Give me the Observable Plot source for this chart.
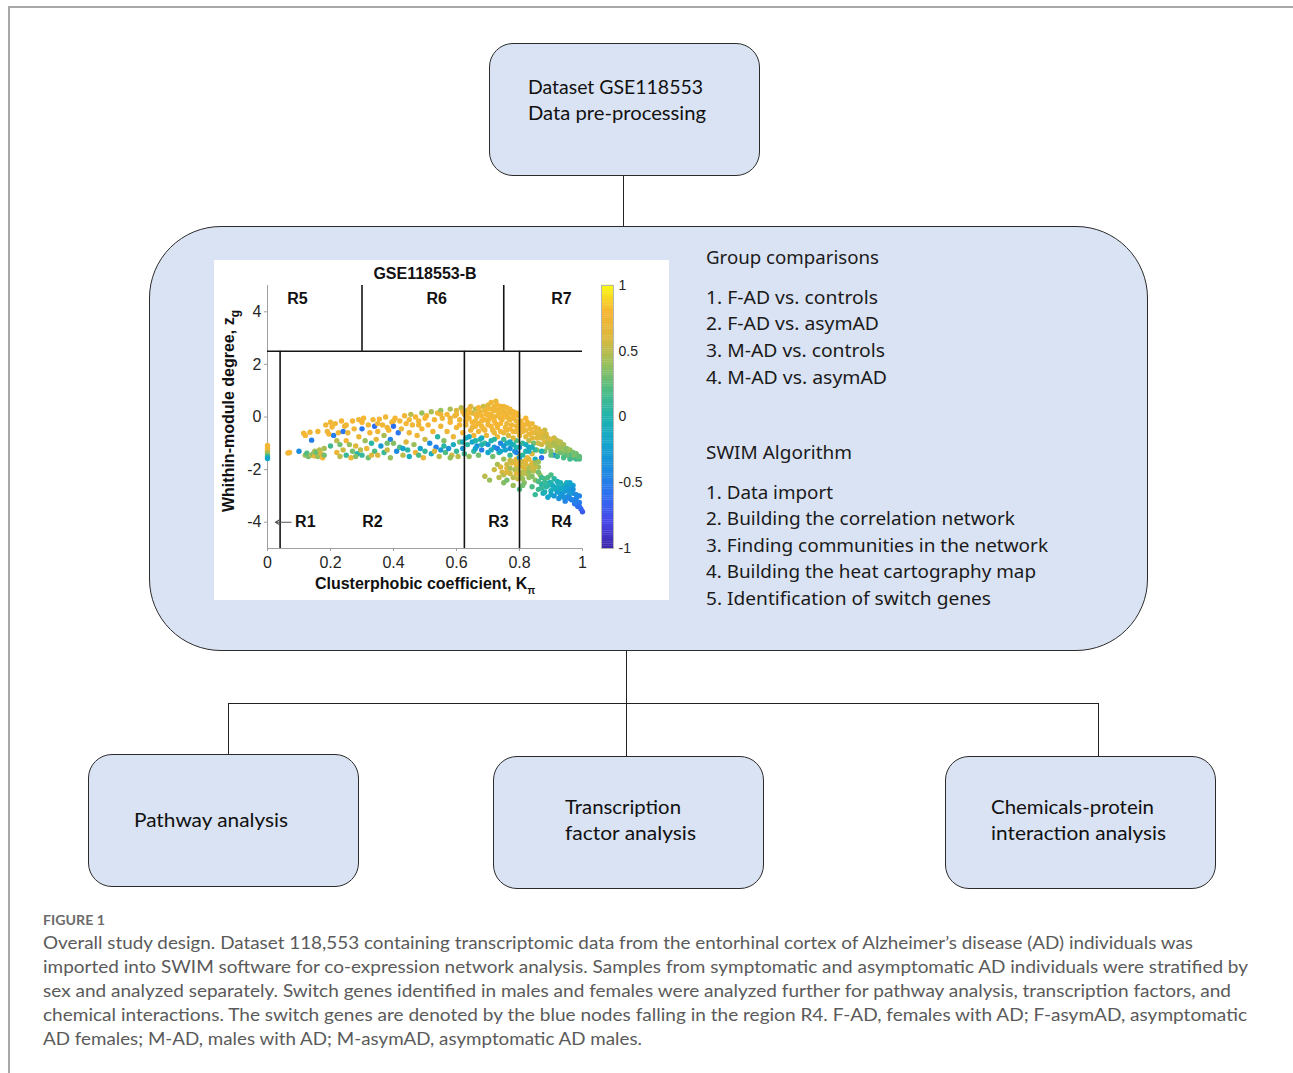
<!DOCTYPE html>
<html><head><meta charset="utf-8">
<script src="https://cdn.jsdelivr.net/npm/d3@7"></script>
<script src="https://cdn.jsdelivr.net/npm/@observablehq/plot@0.6"></script>
<style>
html,body{margin:0;padding:0;background:#fff;}
body{width:1293px;height:1073px;position:relative;overflow:hidden;}
.box{position:absolute;background:#dae3f3;border:1.6px solid #2b2b2b;box-sizing:border-box;}
.ln{position:absolute;background:#222;}
.t{position:absolute;white-space:nowrap;line-height:1;transform-origin:0 50%;}
.abs{position:absolute;}
</style></head><body>
<script>
// ---------- DATA ----------
// genes: [clusterphobic coefficient K_pi, within-module degree z_g, Pearson correlation (colour)]
const genes = [
[0,-1.08,0.75],[0,-1.2,0.8],[0,-1.3,0.6],[0,-1.4,0.4],[0,-1.5,0.1],[0,-1.58,-0.2],
[0.065,-1.37,0.75],[0.07,-1.35,0.8],[0.1,-1.3,-0.4],
[0.115,-0.62,0.75],[0.12,-0.7,0.8],[0.12,-1.45,0.4],[0.125,-1.38,0.2],[0.13,-1.5,0.3],[0.135,-0.58,0.75],[0.14,-1.45,0.5],[0.14,-0.88,-0.5],[0.145,-1.4,0.35],[0.15,-1.3,0.45],[0.15,-1.48,0.7],
[0.155,-1.35,0.25],[0.16,-1.5,0.4],[0.16,-0.55,0.75],[0.165,-1.25,0.5],[0.17,-1.4,0.6],[0.175,-1.55,0.8],[0.18,-1.2,0.45],[0.185,-0.3,0.75],[0.19,-0.55,0.7],[0.195,-0.65,0.8],[0.2,-1.1,0.15],[0.2,-0.2,0.75],
[0.205,-0.38,0.8],[0.21,-0.7,-0.5],[0.215,-0.25,0.75],[0.22,-0.9,0.5],[0.22,-1.35,0.7],[0.225,-0.6,0.75],[0.23,-1.05,0.3],[0.235,-0.15,0.8],[0.24,-0.55,-0.55],[0.24,-1.25,0.55],[0.245,-0.35,0.75],[0.25,-1.45,0.1],[0.25,-0.9,0.8],
[0.255,-0.6,0.7],[0.26,-1.05,0.4],[0.265,-1.55,0.75],[0.27,-0.15,0.8],[0.27,-1.3,0.3],[0.275,-0.45,0.75],[0.28,-1.1,0.6],[0.285,-1.4,0.0],[0.29,-0.1,0.75],[0.29,-0.75,0.7],[0.295,-1.25,0.5],[0.3,-0.45,-0.55],[0.3,-1.45,0.1],
[0.305,-0.05,0.8],[0.31,-0.9,0.4],[0.315,-1.2,0.7],[0.32,-0.3,0.75],[0.32,-1.55,0.3],[0.325,-0.6,0.8],[0.33,-1.0,0.05],[0.335,-0.1,0.75],[0.34,-0.35,-0.6],[0.34,-1.3,0.2],[0.345,-0.85,0.65],[0.35,-0.55,0.75],[0.35,-1.45,0.6],
[0.355,-0.08,0.8],[0.36,-1.1,-0.3],[0.365,-0.3,0.75],[0.37,-1.35,0.1],[0.37,-0.7,0.45],[0.375,0.0,0.75],[0.38,-1.25,0.55],[0.385,-0.5,0.8],[0.39,-0.85,-0.45],[0.39,-1.55,0.4],[0.395,-0.2,0.75],[0.4,-1.0,0.35],[0.4,-0.35,-0.6],
[0.405,-0.05,0.8],[0.41,-1.3,-0.4],[0.415,-0.6,-0.55],[0.42,-0.15,0.75],[0.42,-1.15,0.2],[0.425,-0.45,0.7],[0.43,-1.45,0.5],[0.435,0.05,0.75],[0.44,-0.95,0.6],[0.44,-0.25,0.8],[0.445,-1.25,0.05],[0.45,-0.6,0.75],[0.45,-1.5,-0.1],
[0.455,0.1,0.5],[0.46,-0.3,0.75],[0.465,-1.05,0.4],[0.47,0.0,0.8],[0.47,-1.35,0.7],[0.475,-0.7,0.75],[0.48,-0.15,0.75],[0.485,-1.2,-0.2],[0.49,0.15,0.4],[0.49,-0.45,0.8],[0.495,-1.55,0.7],[0.5,-0.85,0.55],[0.5,-1.3,0.1],
[0.505,0.05,0.75],[0.51,-0.3,0.8],[0.515,-1.0,-0.4],[0.52,0.2,0.45],[0.52,-1.4,-0.1],[0.525,-0.55,0.75],[0.53,-0.1,0.8],[0.535,-1.15,-0.5],[0.54,0.15,0.75],[0.54,-0.75,0.05],[0.545,-1.5,0.5],[0.55,-0.35,0.75],[0.55,-1.25,-0.3],[0.55,0.25,0.4],
[0.555,-0.05,0.75],[0.56,-0.9,0.35],[0.565,-1.35,0.2],[0.57,0.1,0.8],[0.57,-0.55,0.75],[0.575,-1.2,-0.35],[0.58,0.3,0.45],[0.58,-0.2,0.8],[0.585,-1.45,0.55],[0.59,-0.75,0.7],[0.59,-1.05,-0.1],[0.595,0.05,0.75],[0.6,-0.4,0.75],[0.6,-1.3,0.1],[0.6,0.25,0.6],
[0.605,-1.5,0.5],[0.61,-0.1,0.75],[0.61,-0.95,0.3],[0.615,0.35,0.5],[0.62,-0.6,0.8],[0.62,-1.2,-0.3],[0.625,0.1,0.75],[0.625,-1.4,0.15],[0.63,-0.3,0.7],[0.63,-0.8,-0.1],[0.635,0.25,0.45],[0.635,-1.05,0.05],[0.64,-0.05,0.75],[0.64,-1.5,0.4],[0.645,-0.5,0.75],[0.645,0.4,0.6],[0.65,-0.95,-0.2],[0.65,-0.2,0.8],[0.65,0.15,0.55],
[0.655,-1.3,0.1],[0.655,-0.7,0.75],[0.66,0.3,0.5],[0.66,-0.35,0.8],[0.665,-1.1,-0.4],[0.665,0.0,0.75],[0.67,-0.55,0.75],[0.67,-1.45,0.3],[0.675,0.2,0.7],[0.675,-0.85,0.05],[0.68,-0.15,0.75],[0.68,-1.25,-0.5],[0.685,0.4,0.55],[0.685,-0.45,0.8],[0.69,-1.0,0.1],[0.69,-2.25,0.5],[0.695,0.1,0.75],[0.695,-0.7,0.7],[0.7,-1.35,-0.2],[0.7,-0.3,0.75],[0.7,0.45,0.65],
[0.705,-2.4,0.4],[0.705,-0.05,0.8],[0.71,-0.9,0.0],[0.71,0.55,0.75],[0.715,-0.5,0.75],[0.715,-1.5,0.3],[0.72,0.25,0.75],[0.72,-1.15,-0.3],[0.72,-2.0,0.55],[0.725,0.6,0.7],[0.725,-0.25,0.8],[0.73,-0.75,0.7],[0.73,-1.8,0.45],[0.73,0.05,0.75],[0.735,-1.35,0.05],[0.735,-2.3,0.5],[0.74,0.4,0.75],[0.74,-0.55,0.75],[0.74,-1.0,-0.45],[0.745,-2.1,0.6],[0.745,-0.1,0.8],[0.75,0.2,0.7],[0.75,-1.6,0.4],[0.75,-0.85,0.15],[0.75,-2.5,0.35],
[0.755,-0.4,0.75],[0.755,-1.25,-0.2],[0.76,0.35,0.75],[0.76,-1.95,0.65],[0.76,-2.4,0.3],[0.765,-0.05,0.8],[0.765,-0.7,0.6],[0.77,-1.45,0.1],[0.77,-2.15,0.55],[0.77,0.15,0.7],[0.775,-1.05,0.0],[0.775,-0.3,0.75],[0.775,-1.75,0.7],[0.78,-2.6,0.4],[0.78,0.2,0.75],[0.78,-0.55,0.75],[0.785,-1.3,-0.3],[0.785,-2.0,0.45],[0.79,-0.15,0.7],[0.79,-0.9,0.2],[0.79,-1.6,0.65],[0.795,-2.35,0.55],[0.795,0.05,0.75],[0.8,-0.4,0.75],[0.8,-1.15,-0.4],[0.8,-1.85,0.5],[0.8,-2.75,0.2],[0.8,-1.45,0.6],[0.8,-0.7,0.7],
[0.805,-0.15,0.75],[0.805,-2.2,0.45],[0.81,-0.55,0.7],[0.81,-1.0,0.1],[0.81,-1.7,0.55],[0.815,-2.5,0.35],[0.815,-0.3,0.8],[0.82,-1.3,0.0],[0.82,-2.0,0.6],[0.82,-0.75,0.65],[0.825,-1.55,0.7],[0.825,-0.2,0.75],[0.83,-2.3,0.4],[0.83,-0.9,0.5],[0.83,-1.15,-0.2],[0.835,-1.85,0.55],[0.835,-0.45,0.7],[0.84,-2.65,0.2],[0.84,-1.4,0.6],[0.84,-0.6,0.75],[0.845,-2.05,0.5],[0.845,-1.0,0.3],[0.85,-0.4,0.7],[0.85,-1.6,-0.1],[0.85,-2.4,0.35],[0.85,-2.95,0.1],
[0.855,-0.8,0.65],[0.855,-1.25,0.4],[0.86,-2.75,0.15],[0.86,-1.9,0.4],[0.865,-0.55,0.7],[0.865,-2.2,0.45],[0.87,-1.05,0.55],[0.87,-1.55,-0.6],[0.87,-2.55,0.0],[0.875,-0.7,0.6],[0.875,-2.9,-0.1],[0.88,-1.3,0.3],[0.88,-2.35,0.2],[0.88,-0.95,0.65],[0.885,-2.65,0.05],[0.885,-0.65,0.6],[0.89,-1.15,0.4],[0.89,-3.05,-0.2],[0.895,-2.5,-0.05],[0.895,-0.9,0.55],[0.9,-1.3,0.35],[0.9,-2.8,-0.1],[0.9,-2.2,0.2],
[0.905,-0.95,0.5],[0.905,-2.6,-0.2],[0.91,-1.45,-0.4],[0.91,-3.0,-0.3],[0.915,-1.1,0.45],[0.915,-2.75,0.0],[0.92,-1.3,0.4],[0.92,-2.45,-0.1],[0.925,-3.1,-0.35],[0.925,-1.0,0.55],[0.93,-2.7,-0.2],[0.93,-1.35,0.3],[0.935,-2.9,-0.4],[0.935,-1.15,0.45],[0.94,-2.6,0.05],[0.94,-1.4,0.3],[0.945,-3.2,-0.45],[0.945,-1.25,0.4],[0.95,-2.8,-0.3],[0.95,-1.45,0.25],[0.95,-2.5,-0.1],
[0.955,-3.0,-0.35],[0.955,-1.3,0.35],[0.96,-2.65,-0.15],[0.96,-1.5,0.3],[0.965,-3.15,-0.5],[0.965,-1.4,0.2],[0.97,-2.9,-0.4],[0.97,-1.55,0.25],[0.975,-3.3,-0.55],[0.975,-1.45,0.35],[0.98,-3.1,-0.45],[0.98,-1.6,0.15],[0.985,-3.4,-0.6],[0.985,-1.5,0.3],[0.99,-3.25,-0.5],[0.99,-1.6,0.2],[0.995,-3.5,-0.65],[1.0,-3.6,-0.7],
[0.63,0.05,0.75],[0.64,0.3,0.8],[0.65,-0.4,0.7],[0.66,0.1,0.75],[0.67,0.35,0.8],[0.67,-0.25,0.75],[0.68,0.05,0.8],[0.69,-0.5,0.75],[0.69,0.25,0.75],[0.7,0.1,0.8],[0.7,-0.15,0.7],[0.71,0.3,0.75],[0.71,-0.35,0.8],[0.72,0.0,0.75],[0.72,-0.6,0.7],[0.73,0.45,0.8],[0.73,-0.4,0.75],[0.74,0.15,0.75],[0.74,-0.25,0.8],[0.75,-0.6,0.7],[0.75,0.4,0.75],[0.76,0.0,0.75],[0.76,-0.25,0.7],[0.77,-0.45,0.8],[0.77,0.3,0.75],[0.78,-0.05,0.75],[0.78,-0.8,0.6],[0.79,0.15,0.8],[0.79,-0.35,0.75],[0.8,-0.25,0.75],[0.81,-0.4,0.75],[0.82,-0.5,0.7],[0.82,-0.05,0.8],[0.83,-0.3,0.75],[0.83,-0.65,0.7],[0.84,-0.25,0.7],[0.84,-0.8,0.65],[0.85,-0.6,0.65],[0.86,-0.45,0.65],[0.86,-1.0,0.55],[0.87,-0.8,0.6],[0.88,-0.5,0.55],[0.89,-0.8,0.6],[0.9,-1.1,0.5],[0.91,-0.8,0.55],[0.92,-1.15,0.45],[0.93,-0.95,0.5],
[0.78,-1.7,0.6],[0.79,-1.95,0.5],[0.8,-2.1,0.45],[0.81,-1.9,0.6],[0.81,-2.35,0.4],[0.82,-1.65,0.7],[0.82,-2.15,0.5],[0.83,-1.95,0.45],[0.84,-1.75,0.65],[0.84,-2.25,0.35],[0.85,-1.9,0.55],[0.86,-2.1,0.3],[0.76,-1.8,0.55],[0.77,-1.95,0.45],
[0.86,-2.45,0.2],[0.87,-2.7,0.1],[0.88,-2.85,-0.05],[0.89,-2.6,0.05],[0.9,-2.95,-0.2],[0.91,-2.7,-0.1],[0.92,-2.85,-0.25],[0.93,-3.0,-0.3],[0.94,-2.85,-0.3],[0.95,-3.05,-0.4],[0.96,-2.9,-0.3],[0.97,-3.15,-0.45],[0.96,-2.5,-0.2],[0.97,-2.6,-0.25],
[0.64,-0.75,-0.15],[0.66,-0.9,0.0],[0.68,-0.8,-0.1],[0.7,-1.05,-0.3],[0.72,-0.85,0.05],[0.73,-1.2,-0.5],[0.74,-1.3,-0.2],[0.76,-1.0,-0.1],[0.77,-1.2,-0.35],[0.78,-1.05,-0.05],[0.79,-1.35,-0.45],[0.8,-1.55,-0.3],[0.81,-1.45,0.05],[0.83,-1.3,-0.1],[0.85,-1.25,0.1],
[0.86,-0.7,0.6],[0.87,-0.6,0.65],[0.88,-0.75,0.55],[0.89,-1.0,0.5],[0.9,-0.85,0.6],[0.91,-1.0,0.45],[0.92,-0.9,0.5],[0.93,-1.2,0.4],[0.94,-1.05,0.45],[0.95,-1.2,0.35],[0.96,-1.25,0.4],[0.97,-1.35,0.3],[0.98,-1.4,0.3],[0.99,-1.5,0.25],[0.94,-1.55,0.2],[0.96,-1.6,0.15],[0.92,-1.5,0.1],[0.9,-1.45,0.25],
[0.87,-2.3,0.15],[0.88,-2.5,0.1],[0.89,-2.3,0.2],[0.9,-2.5,0.0],[0.91,-2.35,0.05],[0.92,-2.65,-0.1],[0.93,-2.5,-0.05],[0.94,-2.7,-0.2],[0.95,-2.65,-0.25],[0.96,-2.75,-0.3],[0.97,-2.75,-0.35],[0.98,-2.95,-0.4],[0.98,-3.25,-0.5],[0.99,-3.4,-0.6],[0.93,-2.75,-0.15],[0.96,-3.1,-0.45],[0.94,-3.05,-0.35],[0.99,-3.0,-0.45],
[0.74,-1.9,0.6],[0.75,-2.2,0.5],[0.76,-2.1,0.6],[0.77,-1.65,0.55],[0.78,-2.3,0.5],[0.79,-2.15,0.65],[0.8,-1.7,0.55],[0.81,-2.1,0.5],[0.82,-1.8,0.6],[0.83,-2.1,0.4],[0.84,-1.95,0.55],[0.85,-1.75,0.45],[0.86,-1.7,0.4],[0.83,-1.6,0.65],[0.79,-1.8,0.7],[0.81,-2.6,0.3],
[0.6,0.1,0.75],[0.61,-0.3,0.8],[0.62,0.2,0.75],[0.63,-0.15,0.75],[0.64,0.15,0.8],[0.66,-0.15,0.75],[0.67,0.15,0.75],[0.68,-0.35,0.75],[0.69,-0.1,0.8],[0.7,0.3,0.75],[0.71,0.1,0.75],[0.72,0.4,0.75],[0.72,-0.15,0.8],[0.73,0.25,0.75],[0.74,-0.05,0.75],[0.75,0.05,0.8],[0.76,0.15,0.75],[0.77,-0.1,0.75],[0.78,0.05,0.8],[0.79,-0.55,0.7],[0.76,-0.5,0.75],[0.74,0.3,0.75],
[0.62,-0.95,-0.1],[0.66,-1.2,-0.2],[0.68,-1.05,0.0],[0.71,-1.25,-0.1],[0.75,-1.1,-0.3],[0.77,-0.95,-0.15],[0.79,-1.15,0.0],[0.82,-1.05,-0.1],[0.84,-1.15,-0.05],[0.87,-1.3,0.0],
[0.18,-1.45,0.3],[0.23,-1.5,0.5],[0.28,-1.5,0.35],[0.33,-1.45,0.6],[0.38,-1.0,0.3],[0.43,-1.2,-0.2],[0.48,-1.45,0.2],[0.53,-1.3,0.6],[0.58,-1.55,0.4],[0.56,-1.1,0.05],
[0.25,-0.3,0.75],[0.3,-0.2,0.8],[0.35,-0.25,0.75],[0.4,-0.15,0.75],[0.45,-0.1,0.75],[0.5,-0.05,0.8],[0.55,0.1,0.75],[0.38,-0.4,0.75],[0.48,-0.3,0.75],[0.58,-0.05,0.75]
];
// region boundaries of the heat cartography map
const zThreshold = 2.5;
const lowerCuts = [0.04, 0.625, 0.8];
const upperCuts = [0.3, 0.75];
const regionNames = ["R5", "R6", "R7", "R1", "R2", "R3", "R4"];
const regionK = [0.095, 0.537, 0.933, 0.12, 0.333, 0.733, 0.933];
const regionZ = [4.5, 4.5, 4.5, -4, -4, -4, -4];
const xTicks = [0, 0.2, 0.4, 0.6, 0.8, 1];
const yTicks = [-4, -2, 0, 2, 4];
const colorTicks = [-1, -0.5, 0, 0.5, 1];
const parula = ["#3e26a8","#4745e9","#2e6ff2","#1c8ce0","#13a5cc","#1fb4ae","#4dbc84","#98bf5a","#dcb83c","#f7b534","#f9fb0e"];

const groupLines = ["1. F-AD vs. controls","2. F-AD vs. asymAD","3. M-AD vs. controls","4. M-AD vs. asymAD"];
const swimLines = ["1. Data import","2. Building the correlation network","3. Finding communities in the network","4. Building the heat cartography map","5. Identification of switch genes"];
const captionLines = [
"Overall study design. Dataset 118,553 containing transcriptomic data from the entorhinal cortex of Alzheimer\u2019s disease (AD) individuals was",
"imported into SWIM software for co-expression network analysis. Samples from symptomatic and asymptomatic AD individuals were stratified by",
"sex and analyzed separately. Switch genes identified in males and females were analyzed further for pathway analysis, transcription factors, and",
"chemical interactions. The switch genes are denoted by the blue nodes falling in the region R4. F-AD, females with AD; F-asymAD, asymptomatic",
"AD females; M-AD, males with AD; M-asymAD, asymptomatic AD males."
];

// ---------- helpers ----------
function el(cls, x, y, w, h, extra) {
  const d = document.createElement("div");
  d.className = cls;
  Object.assign(d.style, {left: x + "px", top: y + "px", width: w + "px", height: h + "px"}, extra || {});
  document.body.appendChild(d);
  return d;
}
function txt(s, x, yc, size, fam, targetW, color, weight, ls) {
  const d = document.createElement("div");
  d.className = "t";
  d.textContent = s;
  Object.assign(d.style, {left: x + "px", top: yc + "px", fontSize: size + "px", fontFamily: fam, color: color || "#111"});
  if (weight) d.style.fontWeight = weight;
  if (ls) d.style.letterSpacing = ls;
  document.body.appendChild(d);
  let sx = 1;
  if (targetW) { const m = d.getBoundingClientRect().width; sx = targetW / m; }
  d.style.transform = `translateY(-50%) scaleX(${sx})`;
  return d;
}

// ---------- frame ----------
el("abs", 9, 6, 1284, 2, {background: "#a8a8a8"});
el("abs", 8, 6, 2, 1067, {background: "#a8a8a8"});

// ---------- connectors ----------
el("ln", 622.5, 175, 1.3, 52);
el("ln", 625.5, 649, 1.3, 55);
el("ln", 228, 702.5, 871, 1.3);
el("ln", 227.5, 703, 1.3, 52);
el("ln", 625.5, 703, 1.3, 54);
el("ln", 1097.5, 703, 1.3, 54);

// ---------- boxes ----------
el("box", 489, 43, 271, 133, {borderRadius: "24px"});
el("box", 149, 226, 999, 425, {borderRadius: "72px"});
el("box", 88, 754, 271, 133, {borderRadius: "24px"});
el("box", 493, 756, 271, 133, {borderRadius: "24px"});
el("box", 945, 756, 271, 133, {borderRadius: "24px"});

// ---------- box texts ----------
const boxFont = "Lato, 'Noto Sans', sans-serif";
txt("Dataset GSE118553", 528, 87, 19.5, boxFont, 175, "#111");
txt("Data pre-processing", 528, 113, 19.5, boxFont, 178, "#111");
txt("Pathway analysis", 134, 820, 19.5, boxFont, 154, "#111");
txt("Transcription", 565, 807, 19.5, boxFont, 116, "#111");
txt("factor analysis", 565, 833, 19.5, boxFont, 131, "#111");
txt("Chemicals-protein", 991, 807, 19.5, boxFont, 163, "#111");
txt("interaction analysis", 991, 833, 19.5, boxFont, 175, "#111");

const mainFont = "'Noto Sans', 'Open Sans', sans-serif";
txt("Group comparisons", 706, 257, 18, mainFont, 173, "#1a1a1a");
const gW = [172, 173, 179, 181], gY = [297, 323, 350, 377];
groupLines.forEach((s, i) => txt(s, 706, gY[i], 18, mainFont, gW[i], "#1a1a1a"));
txt("SWIM Algorithm", 706, 452, 18, mainFont, 146, "#1a1a1a");
const sW = [127, 309, 342, 330, 285], sY = [492, 518, 545, 571, 598];
swimLines.forEach((s, i) => txt(s, 706, sY[i], 18, mainFont, sW[i], "#1a1a1a"));

// ---------- caption ----------
txt("FIGURE 1", 43, 920, 13, "Lato, sans-serif", 62, "#6b6b6b", "bold");
const cW = [1150, 1205, 1188, 1204, 599], cY = [943, 967, 991, 1015, 1039];
captionLines.forEach((s, i) => txt(s, 43, cY[i], 17.5, "Lato, sans-serif", cW[i], "#5a5a5a"));

// ---------- scatter panel ----------
el("abs", 214, 260, 455, 340, {background: "#fff"});

const colorScale = {type: "linear", domain: [-1, 1], interpolate: d3.piecewise(d3.interpolateRgb, parula)};
const helv = "'Liberation Sans', Arial, Helvetica, sans-serif";

const scatter = Plot.plot({
  width: 454, height: 340,
  marginLeft: 53, marginRight: 86, marginTop: 25, marginBottom: 52,
  style: {fontFamily: helv, fontSize: "16px", color: "#262626", background: "transparent", overflow: "visible"},
  x: {domain: [0, 1]},
  y: {domain: [-5, 5]},
  color: colorScale,
  marks: [
    Plot.ruleX([0], {stroke: "#a0a0a0", strokeWidth: 1}),
    Plot.ruleY([-5], {stroke: "#a0a0a0", strokeWidth: 1}),
    Plot.axisX({ticks: xTicks, tickSize: 3, tickPadding: 5, label: null, stroke: "#a0a0a0", tickFormat: d => String(d)}),
    Plot.axisY({ticks: yTicks, tickSize: 3, tickPadding: 3, label: null, stroke: "#a0a0a0", tickFormat: d => String(d)}),
    Plot.dot(genes, {x: d => d[0], y: d => d[1], fill: d => d[2], r: 2.7}),
    Plot.ruleY([zThreshold], {x1: 0, x2: 1, stroke: "#151515", strokeWidth: 1.6}),
    Plot.ruleX(lowerCuts, {y1: -5, y2: zThreshold, stroke: "#151515", strokeWidth: 1.6}),
    Plot.ruleX(upperCuts, {y1: zThreshold, y2: 5, stroke: "#151515", strokeWidth: 1.6}),
    Plot.text(regionNames, {x: (d, i) => regionK[i], y: (d, i) => regionZ[i], text: d => d, fontWeight: "bold", fontSize: 16, fill: "#111"}),
    Plot.arrow([0], {x1: 0.075, x2: 0.025, y1: -4, y2: -4, stroke: "#555", strokeWidth: 1.1, headLength: 6}),
    Plot.text(["GSE118553-B"], {frameAnchor: "top", lineAnchor: "middle", dy: -12, text: d => d, fontWeight: "bold", fontSize: 16, fill: "#111"}),
    Plot.text(["Clusterphobic coefficient, K"], {frameAnchor: "bottom", lineAnchor: "middle", dy: 35, text: d => d, fontWeight: "bold", fontSize: 16, fill: "#111"}),
    Plot.text(["Whithin-module degree, z"], {frameAnchor: "left", textAnchor: "middle", lineAnchor: "middle", dx: -39, dy: -6, rotate: -90, text: d => d, fontWeight: "bold", fontSize: 16, fill: "#111"})
  ]
});
Object.assign(scatter.style, {position: "absolute", left: "214px", top: "260px"});
document.body.appendChild(scatter);
// subscripts on axis labels
d3.select(scatter).selectAll("text").each(function () {
  const t = this.textContent;
  if (t === "Clusterphobic coefficient, K") {
    d3.select(this).append("tspan").attr("dy", 5).attr("font-size", 10).text("\u03C0");
  } else if (t === "Whithin-module degree, z") {
    d3.select(this).append("tspan").attr("dy", 5).attr("font-size", 12).text("g");
  }
});

// ---------- colorbar ----------
const steps = d3.range(120);
const cb = Plot.plot({
  width: 70, height: 340,
  marginLeft: 0, marginRight: 58, marginTop: 25, marginBottom: 52,
  style: {fontFamily: helv, fontSize: "14px", color: "#262626", background: "transparent", overflow: "visible"},
  x: {domain: [0, 1], axis: null},
  y: {domain: [-1, 1], axis: null},
  color: colorScale,
  marks: [
    Plot.rect(steps, {x1: 0, x2: 1, y1: i => -1 + i * 2 / 120, y2: i => -1 + (i + 1) * 2 / 120 + 0.002, fill: i => -1 + (i + 0.5) * 2 / 120}),
    Plot.frame({stroke: "#b5b5b5"}),
    Plot.axisY({anchor: "right", ticks: colorTicks, tickSize: 0, tickPadding: 5, label: null, tickFormat: d => String(d)})
  ]
});
Object.assign(cb.style, {position: "absolute", left: "601px", top: "260px"});
document.body.appendChild(cb);
</script>
</body></html>
